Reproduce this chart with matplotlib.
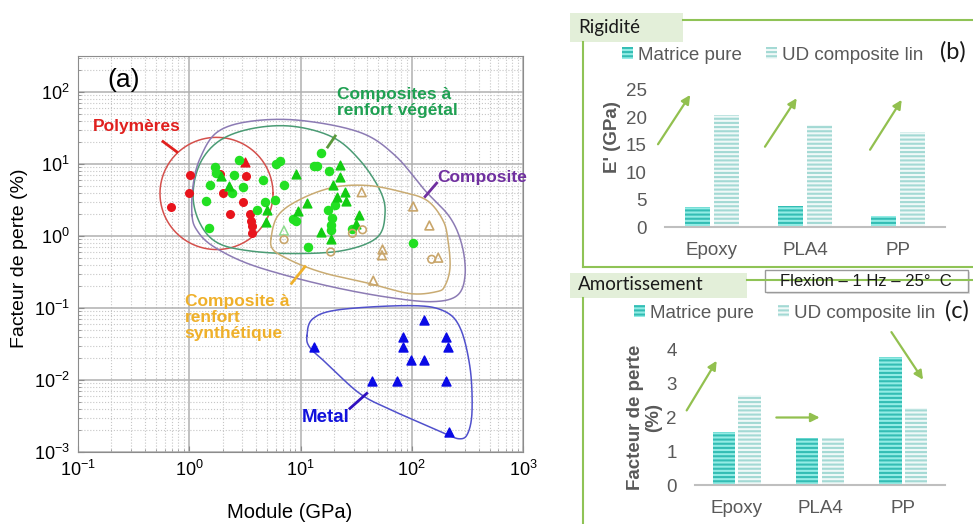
import numpy as np
import matplotlib
matplotlib.use("Agg")
import matplotlib.pyplot as plt
from matplotlib.lines import Line2D
from matplotlib.patches import Rectangle

plt.rcParams['font.family'] = ['Liberation Sans', 'DejaVu Sans']
plt.rcParams['hatch.linewidth'] = 1.5

# ---- panel (a) data : module (GPa) / facteur de perte (%)
poly_E = [1.02, 1.0, 0.68, 2.0, 2.32, 3.02, 3.24, 3.52, 3.56, 3.64, 3.64, 1.89]
poly_eta = [7.1, 4.0, 2.5, 3.9, 2.0, 3.0, 6.9, 2.0, 1.6, 1.36, 1.09, 7.2]
poly_tri_E = [3.17]
poly_tri_eta = [10.6]

veg_circ_E = [1.70, 1.73, 2.54, 1.54, 2.41, 3.02, 1.42, 1.51, 2.82, 4.63, 7.11, 4.80,
              5.90, 4.04, 8.62, 9.05, 6.02, 6.54, 11.7, 15.2, 13.2, 14.2, 18.2, 20.4,
              17.8, 19.3, 18.7, 18.7, 28.9, 103]
veg_circ_eta = [9.06, 7.57, 7.10, 5.15, 3.99, 4.77, 3.02, 1.28, 11.2, 6.05, 5.04, 2.95,
                3.19, 2.31, 1.73, 1.61, 10.1, 11.0, 0.70, 14.2, 9.27, 9.27, 7.97, 2.72,
                2.31, 1.79, 1.40, 1.22, 1.26, 0.79]
veg_tri_E = [1.92, 2.29, 4.97, 4.90, 9.12, 11.5, 9.40, 22.6, 22.6, 19.4, 25.1, 21.1,
             25.6, 33.6, 31.5, 15.3, 18.8]
veg_tri_eta = [6.72, 4.96, 2.30, 1.54, 7.28, 2.86, 2.26, 9.57, 6.51, 5.17, 4.06, 3.43,
               3.02, 1.96, 1.49, 1.13, 0.91]
veg_open_E = [7.1]
veg_open_eta = [1.19]

synth_tri_E = [35.5, 103, 144, 54.6, 54.0, 173, 45.1]
synth_tri_eta = [4.06, 2.57, 1.40, 0.65, 0.54, 0.50, 0.24]
synth_circ_E = [36.1, 29.3, 7.11, 18.7, 151]
synth_circ_eta = [1.22, 1.09, 0.89, 0.60, 0.475]

metal_E = [129, 83, 203, 83, 213, 13.2, 98.5, 129, 43.6, 74.1, 203, 216]
metal_eta = [0.069, 0.039, 0.039, 0.029, 0.029, 0.029, 0.0191, 0.0191, 0.0096,
             0.0096, 0.0096, 0.00187]

# outlines of the families, control points in log10(GPa), log10(%)
veg_outline = [(0.034, 0.563), (0.097, 1.008), (0.276, 1.328), (0.573, 1.495),
               (0.933, 1.523), (1.292, 1.370), (1.535, 1.050), (1.715, 0.633),
               (1.760, 0.313), (1.688, -0.021), (1.382, -0.202), (0.933, -0.244),
               (0.519, -0.202), (0.249, -0.090), (0.097, 0.174)]
comp_outline = [(0.025, 0.285), (0.034, 0.702), (0.097, 1.078), (0.249, 1.440),
                (0.546, 1.592), (0.996, 1.606), (1.535, 1.439), (1.849, 1.120),
                (2.119, 0.633), (2.344, 0.257), (2.452, -0.132), (2.479, -0.550),
                (2.407, -0.828), (2.182, -0.912), (1.804, -0.855), (1.355, -0.730),
                (0.906, -0.563), (0.501, -0.368), (0.204, -0.132), (0.070, 0.077)]
synth_outline = [(0.735, -0.035), (0.798, 0.285), (0.996, 0.508), (1.292, 0.675),
                 (1.598, 0.702), (1.894, 0.619), (2.137, 0.494), (2.281, 0.216),
                 (2.326, -0.063), (2.344, -0.438), (2.299, -0.689), (2.227, -0.772),
                 (1.984, -0.800), (1.625, -0.661), (1.265, -0.536), (1.040, -0.424),
                 (0.861, -0.299), (0.753, -0.188)]
metal_outline = [(1.058, -1.384), (1.112, -1.148), (1.355, -1.022), (1.984, -0.967),
                 (2.281, -1.036), (2.434, -1.273), (2.524, -1.829), (2.542, -2.427),
                 (2.506, -2.733), (2.434, -2.817), (2.281, -2.733), (1.831, -2.427),
                 (1.535, -2.191), (1.238, -1.773), (1.085, -1.551)]
poly_center = (0.245, 0.591)
poly_radius = (0.508, 0.779)

# ---- panels (b) and (c)
materials = ["Epoxy", "PLA4", "PP"]
rig_matrice = [3.6, 3.8, 2.0]
rig_ud = [20.4, 18.6, 17.4]
amort_matrice = [1.58, 1.38, 3.8]
amort_ud = [2.66, 1.38, 2.29]

W, H = 973, 524


def fx(px):
    return px / W


def fy(py):
    return 1 - py / H


def closed_curve(pts, n=24):
    p = np.asarray(pts, dtype=float)
    m = len(p)
    t = np.linspace(0, 1, n, endpoint=False)[:, None]
    segs = []
    for i in range(m):
        p0, p1, p2, p3 = p[(i - 1) % m], p[i], p[(i + 1) % m], p[(i + 2) % m]
        segs.append(0.5 * (2 * p1 + (-p0 + p2) * t + (2 * p0 - 5 * p1 + 4 * p2 - p3) * t ** 2
                           + (-p0 + 3 * p1 - 3 * p2 + p3) * t ** 3))
    segs.append(p[:1])
    return np.vstack(segs)


fig = plt.figure(figsize=(9.73, 5.24), dpi=100)

# ================= (a)
ax = fig.add_axes([fx(78), fy(452), fx(523) - fx(78), fy(56) - fy(452)])
ax.set_xscale('log')
ax.set_yscale('log')
ax.set_xlim(0.1, 1000)
ax.set_ylim(1e-3, 10 ** 2.5)
ax.set_yticks([1e-3, 1e-2, 1e-1, 1, 10, 100])
ax.grid(True, which='major', color='#b0b0b0', lw=1.1)
ax.grid(True, which='minor', color='#c6c6c6', ls=':', lw=0.8)
ax.set_axisbelow(True)
ax.tick_params(which='both', direction='in', color='#8c8c8c', labelsize=13, pad=6)
ax.tick_params(which='major', length=4)
ax.tick_params(which='minor', length=2)
for s in ax.spines.values():
    s.set_color('#8c8c8c')

th = np.linspace(0, 2 * np.pi, 200)
ax.plot(10 ** (poly_center[0] + poly_radius[0] * np.cos(th)),
        10 ** (poly_center[1] + poly_radius[1] * np.sin(th)), color='#d4504c', lw=1.1)
for outline, col in [(veg_outline, '#4a9b74'), (comp_outline, '#8c7bb4'),
                     (synth_outline, '#c9ab72'), (metal_outline, '#5050cc')]:
    c = closed_curve(outline)
    ax.plot(10 ** c[:, 0], 10 ** c[:, 1], color=col, lw=1.1)

ax.scatter(poly_E, poly_eta, s=30, color='#e8141c', zorder=3)
ax.scatter(poly_tri_E, poly_tri_eta, s=40, marker='^', color='#e8141c', zorder=3)
ax.scatter(veg_circ_E, veg_circ_eta, s=34, color='#22e022', zorder=3)
ax.scatter(veg_tri_E, veg_tri_eta, s=40, marker='^', color='#12cc12', zorder=3)
ax.scatter(veg_open_E, veg_open_eta, s=40, marker='^', facecolor='none',
           edgecolor='#8fdc8f', lw=1.1, zorder=3)
ax.scatter(synth_tri_E, synth_tri_eta, s=40, marker='^', facecolor='none',
           edgecolor='#c9a66b', lw=1.2, zorder=3)
ax.scatter(synth_circ_E, synth_circ_eta, s=30, facecolor='none',
           edgecolor='#c9a66b', lw=1.2, zorder=3)
ax.scatter(metal_E, metal_eta, s=42, marker='^', color='#0a0ae6', zorder=3)

ax.set_xlabel('Module (GPa)', fontsize=14.5)
ax.xaxis.set_label_coords(0.476, -0.128)
ax.set_ylabel('Facteur de perte (%)', fontsize=14)
ax.yaxis.set_label_coords(-0.113, 0.49)

ax.text(0.065, 0.939, '(a)', transform=ax.transAxes, fontsize=19, va='center')
lab = dict(transform=ax.transAxes, fontsize=12.5, fontweight='bold', va='center',
           linespacing=1.1)
ax.text(0.034, 0.821, 'Polymères', color='#e0201e', **lab)
ax.text(0.582, 0.882, 'Composites à\nrenfort végétal', color='#1fa052', **lab)
ax.text(0.807, 0.693, 'Composite', color='#7030a0', **lab)
ax.text(0.240, 0.340, 'Composite à\nrenfort\nsynthétique', color='#efb02a', **lab)
ax.text(0.503, 0.086, 'Metal', color='#1212dc', **dict(lab, fontsize=13.5))
for (x0, y0, x1, y1), col in [((0.191, 0.784, 0.222, 0.758), '#e0201e'),
                              ((0.578, 0.798, 0.561, 0.770), '#5b9a3c'),
                              ((0.806, 0.679, 0.780, 0.645), '#7030a0'),
                              ((0.510, 0.468, 0.480, 0.426), '#efb02a'),
                              ((0.649, 0.148, 0.611, 0.110), '#3010c0')]:
    ax.plot([x0, x1], [y0, y1], transform=ax.transAxes, color=col, lw=2)

# ================= frames for (b) and (c)
frame_col = '#8fc356'
fig.add_artist(Rectangle((fx(570), fy(42)), fx(683) - fx(570), fy(13) - fy(42),
                         transform=fig.transFigure, facecolor='#e3efd9', edgecolor='none'))
fig.add_artist(Rectangle((fx(570), fy(298)), fx(747) - fx(570), fy(273) - fy(298),
                         transform=fig.transFigure, facecolor='#e3efd9', edgecolor='none'))
for xs, ys in [((683, 973), (20, 20)), ((583, 583), (42, 267)), ((583, 973), (267, 267)),
               ((747, 973), (280, 280)), ((583, 583), (298, 524))]:
    fig.add_artist(Line2D([fx(v) for v in xs], [fy(v) for v in ys],
                          transform=fig.transFigure, color=frame_col, lw=1.5))
fig.text(fx(578), fy(28), 'Rigidité', fontsize=13.5, family=['Lato', 'DejaVu Sans'],
         va='center', color='#1a1a1a')
fig.text(fx(578), fy(285), 'Amortissement', fontsize=13.5, family=['Lato', 'DejaVu Sans'],
         va='center', color='#1a1a1a')
fig.add_artist(Rectangle((fx(767), fy(294)), fx(968) - fx(765), fy(270) - fy(292),
                         transform=fig.transFigure, facecolor='#e2e2e2', edgecolor='none'))
fig.add_artist(Rectangle((fx(765), fy(292)), fx(968) - fx(765), fy(270) - fy(292),
                         transform=fig.transFigure, facecolor='white', edgecolor='#9a9a9a',
                         lw=1))
fig.text(fx(866), fy(281), 'Flexion – 1 Hz – 25°  C', fontsize=12, ha='center',
         va='center', color='#1a1a1a')

grey = '#595959'
arrow_col = '#92c04f'


def bar_panel(rect, matrice, ud, ylim, yticks, ylabel, label_coords, arrows,
              legend_xy, tag, tag_xy):
    a = fig.add_axes(rect)
    x = np.arange(len(materials))
    w = 0.27
    b1 = a.bar(x - 0.155, matrice, w, facecolor='#93ece5', edgecolor='#33bdb4',
               hatch='----', lw=0, label='Matrice pure')
    b2 = a.bar(x + 0.155, ud, w, facecolor='#f0f9f8', edgecolor='#a3d9d4',
               hatch='----', lw=0, label='UD composite lin')
    a.set_xlim(-0.5, 2.5)
    a.set_ylim(*ylim)
    a.set_yticks(yticks)
    a.set_xticks(x)
    a.set_xticklabels(materials)
    for s in ['top', 'right', 'left']:
        a.spines[s].set_visible(False)
    a.spines['bottom'].set_color('#bfbfbf')
    a.spines['bottom'].set_linewidth(1.5)
    a.tick_params(length=0, labelsize=13.5, labelcolor=grey)
    a.tick_params(axis='y', pad=13)
    a.tick_params(axis='x', pad=11)
    a.set_ylabel(ylabel, fontsize=13.5, fontweight='bold', color=grey, linespacing=1.1)
    a.yaxis.set_label_coords(*label_coords)
    for (x0, y0), (x1, y1) in arrows:
        a.annotate('', xy=(x1, y1), xytext=(x0, y0), annotation_clip=False,
                   arrowprops=dict(arrowstyle='-|>', color=arrow_col, lw=1.6,
                                   mutation_scale=13, shrinkA=0, shrinkB=0))
    a.legend(handles=[b1, b2], loc='center left', bbox_to_anchor=legend_xy,
             bbox_transform=fig.transFigure, ncol=2, frameon=False, fontsize=13.5,
             handlelength=0.6, handleheight=0.55, handletextpad=0.25,
             columnspacing=1.3, borderpad=0, borderaxespad=0, labelcolor=grey)
    fig.text(tag_xy[0], tag_xy[1], tag, fontsize=17, va='center',
             family=['Lato', 'DejaVu Sans'], color='#1a1a1a')
    return a


bar_panel([fx(665), fy(227), fx(945) - fx(665), fy(90) - fy(227)], rig_matrice, rig_ud,
          (0, 25), [0, 5, 10, 15, 20, 25], "E' (GPa)", (-0.157, 0.66),
          [((-0.575, 15.1), (-0.23, 24.1)), ((0.571, 14.65), (0.911, 23.5)),
           ((1.697, 14.1), (2.036, 23.2))],
          (fx(622), fy(55)), '(b)', (fx(940), fy(52)))

bar_panel([fx(695), fy(485), fx(945) - fx(695), fy(350) - fy(485)], amort_matrice,
          amort_ud, (0, 4), [0, 1, 2, 3, 4], 'Facteur de perte\n(%)', (-0.13, 0.5),
          [((-0.6, 2.21), (-0.24, 3.68)), ((0.476, 2.0), (0.996, 2.0)),
           ((1.857, 4.53), (2.236, 3.12))],
          (fx(634), fy(313)), '(c)', (fx(945), fy(311)))

fig.savefig('out.png', dpi=100)
